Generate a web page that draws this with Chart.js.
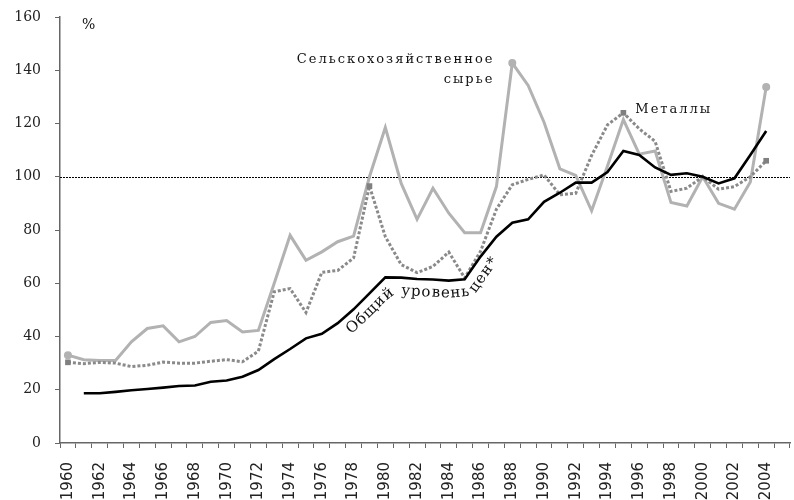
<!DOCTYPE html>
<html>
<head>
<meta charset="utf-8">
<script src="https://cdn.jsdelivr.net/npm/chart.js@4.4.1/dist/chart.umd.min.js"></script>
<style>
  html, body { margin: 0; padding: 0; background: #fff; }
  #wrap { width: 794px; height: 500px; position: relative; }
</style>
</head>
<body>
<div id="wrap"><canvas id="chart"></canvas></div>
<script>
const years = ['1960','1961','1962','1963','1964','1965','1966','1967','1968','1969',
  '1970','1971','1972','1973','1974','1975','1976','1977','1978','1979',
  '1980','1981','1982','1983','1984','1985','1986','1987','1988','1989',
  '1990','1991','1992','1993','1994','1995','1996','1997','1998','1999',
  '2000','2001','2002','2003','2004','2005']

// сельскохозяйственное сырье, %
const agro = [33, 31.3, 31, 31, 38, 43, 44, 38, 40, 45.3,
  46, 41.7, 42.3, 60, 78, 68.6, 71.8, 75.6, 77.7, 100,
  118.5, 97.5, 84, 95.7, 86.3, 79, 79, 96.3, 142.7, 134.3,
  120.5, 103, 100.5, 87.2, 104, 121.5, 108.5, 109.7, 90.3, 89,
  100, 90, 87.8, 98, 133.7, null]

// металлы, %
const metals = [30.3, 29.8, 30.3, 30, 28.7, 29.2, 30.4, 30, 30, 30.7,
  31.3, 30.5, 34.5, 56.8, 58, 49, 64.1, 64.8, 69.5, 96.5,
  77.5, 67, 64, 66.3, 71.7, 62, 72, 87.8, 97, 99,
  100.7, 93.2, 93.8, 108, 119.5, 124, 118, 113.3, 94.5, 95.7,
  100, 95.3, 96.3, 100, 106, null]

// общий уровень цен, %
const priceLevel = [null, 18.7, 18.7, 19.2, 19.8, 20.3, 20.8, 21.4, 21.6, 23,
  23.5, 24.9, 27.4, 31.5, 35.3, 39.3, 41, 45, 50.2, 56.2,
  62.2, 62.1, 61.6, 61.4, 61, 61.5, 70, 77.5, 82.7, 84,
  90.6, 94, 97.8, 97.8, 101.8, 109.7, 108.2, 103.5, 100.7, 101.3,
  100, 97.5, 99.4, 108.2, 117.2, null]

const agroMarkers = ['1960', '1988', '2004']
const metalMarkers = ['1960', '1979', '1995', '2004']
const yTicks = [0, 20, 40, 60, 80, 100, 120, 140, 160]
const refValue = 100

const agroLabel = ['Сельскохозяйственное', 'сырье']
const metalLabel = 'Металлы'
const priceLabel = 'Общий уровень цен*'
const priceLabelYears = ['1976', '1977', '1978', '1979', '1980', '1981', '1982', '1983', '1984', '1985', '1986', '1987', '1988']

const serif = '"DejaVu Serif", "Liberation Serif", serif'

function pointAt(segs, s) {
  let seg = segs[segs.length - 1]
  for (const sg of segs) {
    if (s <= sg.start + sg.len) { seg = sg; break }
  }
  if (s < 0) seg = segs[0]
  const t = (s - seg.start) / seg.len
  return { x: seg.a.x + (seg.b.x - seg.a.x) * t, y: seg.a.y + (seg.b.y - seg.a.y) * t }
}

function normalOf(a, b) {
  const dx = b.x - a.x, dy = b.y - a.y
  const l = Math.hypot(dx, dy)
  return { x: -dy / l, y: dx / l }
}

function offsetPolyline(pts, d) {
  const out = []
  for (let i = 0; i < pts.length; i++) {
    const ns = []
    if (i > 0) ns.push(normalOf(pts[i - 1], pts[i]))
    if (i < pts.length - 1) ns.push(normalOf(pts[i], pts[i + 1]))
    let nx = ns.reduce((a, n) => a + n.x, 0), ny = ns.reduce((a, n) => a + n.y, 0)
    const l = Math.hypot(nx, ny)
    nx /= l; ny /= l
    const k = d / (nx * ns[0].x + ny * ns[0].y)
    out.push({ x: pts[i].x + nx * k, y: pts[i].y + ny * k })
  }
  return out
}

function textOnPath(ctx, text, pts, startOffset, spacing) {
  const segs = []
  let total = 0
  for (let i = 0; i < pts.length - 1; i++) {
    const len = Math.hypot(pts[i + 1].x - pts[i].x, pts[i + 1].y - pts[i].y)
    segs.push({ a: pts[i], b: pts[i + 1], len: len, start: total })
    total += len
  }
  let s = startOffset
  for (const ch of text) {
    const w = ctx.measureText(ch).width
    const p1 = pointAt(segs, s)
    const p2 = pointAt(segs, s + w)
    const ang = Math.atan2(p2.y - p1.y, p2.x - p1.x)
    ctx.save()
    ctx.translate(p1.x, p1.y)
    ctx.rotate(ang)
    ctx.fillText(ch, 0, 0)
    ctx.restore()
    s += w + spacing
  }
}

const decorations = {
  id: 'decorations',
  beforeDatasetsDraw(chart) {
    const { ctx, chartArea, scales } = chart
    const y = Math.round(scales.y.getPixelForValue(refValue)) + 0.5
    ctx.save()
    ctx.strokeStyle = '#000'
    ctx.lineWidth = 1
    ctx.setLineDash([2, 1])
    ctx.beginPath()
    ctx.moveTo(chartArea.left, y)
    ctx.lineTo(chartArea.right, y)
    ctx.stroke()
    ctx.restore()
  },
  afterDraw(chart) {
    const { ctx, scales } = chart
    const x = scales.x, y = scales.y
    ctx.save()
    ctx.fillStyle = '#111'
    ctx.font = '14px ' + serif
    ctx.textBaseline = 'alphabetic'

    ctx.textAlign = 'left'
    ctx.fillText('%', 82, 29)

    ctx.font = '13px ' + serif
    ctx.letterSpacing = '2px'
    ctx.textAlign = 'right'
    const ax = x.getPixelForValue(years.indexOf('1987')) - 2
    ctx.fillText(agroLabel[0], ax, y.getPixelForValue(142.8))
    ctx.fillText(agroLabel[1], ax, y.getPixelForValue(135.3))

    ctx.textAlign = 'left'
    ctx.fillText(metalLabel, x.getPixelForValue(years.indexOf('1995')) + 12, y.getPixelForValue(124.1))

    // подпись вдоль линии общего уровня цен
    ctx.letterSpacing = '0px'
    ctx.font = '15px ' + serif
    const pts = priceLabelYears.map(yr => {
      const i = years.indexOf(yr)
      return { x: x.getPixelForValue(i), y: y.getPixelForValue(priceLevel[i]) }
    })
    textOnPath(ctx, priceLabel, offsetPolyline(pts, 17), 24, 1)
    ctx.restore()
  }
}

const ctx = document.getElementById('chart').getContext('2d')
const chart = new Chart(ctx, {
  type: 'line',
  data: {
    labels: years,
    datasets: [
      {
        label: 'Общий уровень цен',
        data: priceLevel,
        borderColor: '#000',
        borderWidth: 2.6,
        pointRadius: 0,
        tension: 0,
        spanGaps: false
      },
      {
        label: 'Металлы',
        data: metals,
        borderColor: '#8a8a8a',
        borderWidth: 3,
        borderDash: [3, 2],
        pointStyle: 'rect',
        pointRadius: c => metalMarkers.includes(years[c.dataIndex]) ? 4 : 0,
        pointBackgroundColor: '#808080',
        pointBorderWidth: 0,
        tension: 0
      },
      {
        label: 'Сельскохозяйственное сырье',
        data: agro,
        borderColor: '#b2b2b2',
        borderWidth: 3,
        pointStyle: 'circle',
        pointRadius: c => agroMarkers.includes(years[c.dataIndex]) ? 4 : 0,
        pointBackgroundColor: '#b2b2b2',
        pointBorderWidth: 0,
        tension: 0
      }
    ]
  },
  options: {
    responsive: true,
    maintainAspectRatio: false,
    animation: false,
    layout: { padding: { top: 17, right: 0, left: 0, bottom: 0 } },
    plugins: {
      legend: { display: false },
      tooltip: { enabled: false }
    },
    scales: {
      x: {
        type: 'category',
        offset: true,
        grid: { display: true, drawOnChartArea: false, drawTicks: true, tickLength: 5, offset: true, color: '#666', lineWidth: 1 },
        border: { color: '#666', width: 1.5 },
        ticks: {
          autoSkip: false,
          maxRotation: 90,
          minRotation: 90,
          padding: 14,
          color: '#222',
          font: { family: '"DejaVu Sans", sans-serif', size: 15 },
          callback: (v, i) => i % 2 === 0 ? years[i] : ''
        },
        afterFit: s => { s.height = 57; s.paddingLeft = 0; s.paddingRight = 0 }
      },
      y: {
        min: 0,
        max: 160,
        afterBuildTicks: s => { s.ticks = yTicks.map(v => ({ value: v })) },
        grid: { display: true, drawOnChartArea: false, drawTicks: true, tickLength: 5, color: '#666' },
        border: { color: '#666', width: 1.5 },
        ticks: {
          padding: 14,
          color: '#222',
          font: { family: serif, size: 14 }
        },
        afterFit: s => { s.width = 60; s.paddingTop = 0; s.paddingBottom = 0 }
      }
    }
  },
  plugins: [decorations]
})
</script>
</body>
</html>
